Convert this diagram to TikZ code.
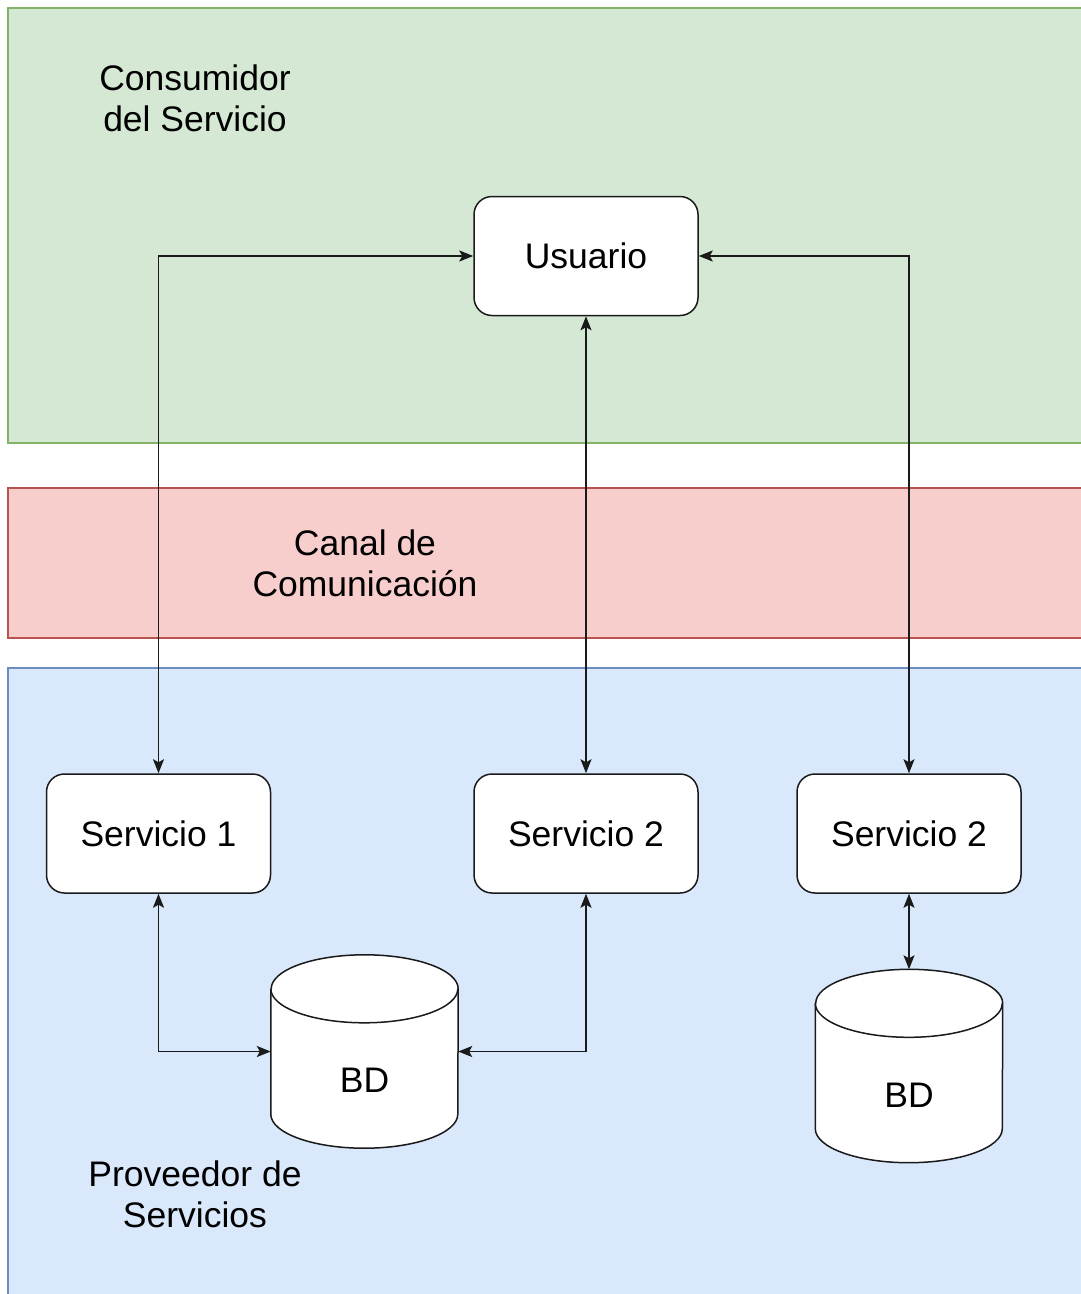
\documentclass[tikz,border=0pt]{standalone}
\usepackage{fontspec}
\setmainfont{Liberation Sans}
\usetikzlibrary{arrows.meta}

\definecolor{consFill}{HTML}{D5E8D4}
\definecolor{consLine}{HTML}{82B366}
\definecolor{canalFill}{HTML}{F8CECC}
\definecolor{canalLine}{HTML}{B85450}
\definecolor{provFill}{HTML}{DAE8FC}
\definecolor{provLine}{HTML}{6C8EBF}
\definecolor{ink}{HTML}{1A1A1A}

\tikzset{
  band/.style={line width=1.2pt},
  boxnode/.style={draw=ink, fill=white, rounded corners=18pt, line width=1.5pt,
    minimum width=224pt, minimum height=119pt, inner sep=0pt,
    font=\fontsize{35.5}{41}\selectfont},
  bandtext/.style={align=center, font=\fontsize{35.5}{41}\selectfont, inner sep=0pt},
  dbnode/.style={minimum width=187pt, minimum height=193pt, inner sep=0pt},
  link/.style={draw=ink, line width=1.6pt,
    {Stealth[length=14pt,width=11pt,inset=3pt]}-{Stealth[length=14pt,width=11pt,inset=3pt]}},
}

% draws a database cylinder around a node of the dbnode style
\newcommand{\dbcylinder}[1]{%
  \path[draw=ink, fill=white, line width=1.5pt]
    ([yshift=-34pt]#1.north west) -- ([yshift=34pt]#1.south west)
    arc[start angle=180, end angle=360, x radius=93.5pt, y radius=34pt]
    -- ([yshift=-34pt]#1.north east)
    arc[start angle=0, end angle=180, x radius=93.5pt, y radius=34pt];
  \draw[ink, line width=1.5pt] ([yshift=-34pt]#1.north west)
    arc[start angle=180, end angle=360, x radius=93.5pt, y radius=34pt];
}

\begin{document}
\begin{tikzpicture}[x=1pt, y=-1pt]
  \useasboundingbox (0,0) rectangle (1081,1294);
  \fill[white] (0,0) rectangle (1081,1294);
  \begin{scope}
    \clip (0,0) rectangle (1081,1294);
    % the three layers
    \filldraw[band, fill=consFill, draw=consLine] (8,8) rectangle (1100,443);
    \filldraw[band, fill=canalFill, draw=canalLine] (8,488) rectangle (1100,638);
    \filldraw[band, fill=provFill, draw=provLine] (8,668) rectangle (1100,1310);
  \end{scope}

  % layer titles
  \node[bandtext] (tcons) at (195,98) {Consumidor\\del Servicio};
  \node[bandtext] (tcanal) at (365,563) {Canal de\\Comunicación};
  \node[bandtext] (tprov) at (195,1194) {Proveedor de\\Servicios};

  % service nodes
  \node[boxnode] (usr) at (586,256) {Usuario};
  \node[boxnode] (s1) at (158.5,833.5) {Servicio 1};
  \node[boxnode] (s2) at (586,833.5) {Servicio 2};
  \node[boxnode] (s3) at (909,833.5) {Servicio 2};

  % databases
  \node[dbnode] (db1) at (364.5,1051.5) {};
  \node[dbnode] (db2) at (909,1066) {};
  \dbcylinder{db1}
  \dbcylinder{db2}
  \node[font=\fontsize{35.5}{41}\selectfont] (db1t) at (364.5,1080) {BD};
  \node[font=\fontsize{35.5}{41}\selectfont] (db2t) at (909,1095) {BD};

  % connections
  \draw[link] (s1.north) |- (usr.west);
  \draw[link] (s2.north) -- (usr.south);
  \draw[link] (s3.north) |- (usr.east);
  \draw[link] (s1.south) |- (db1.west);
  \draw[link] (s2.south) |- (db1.east);
  \draw[link] (s3.south) -- (db2.north);
\end{tikzpicture}
\end{document}
